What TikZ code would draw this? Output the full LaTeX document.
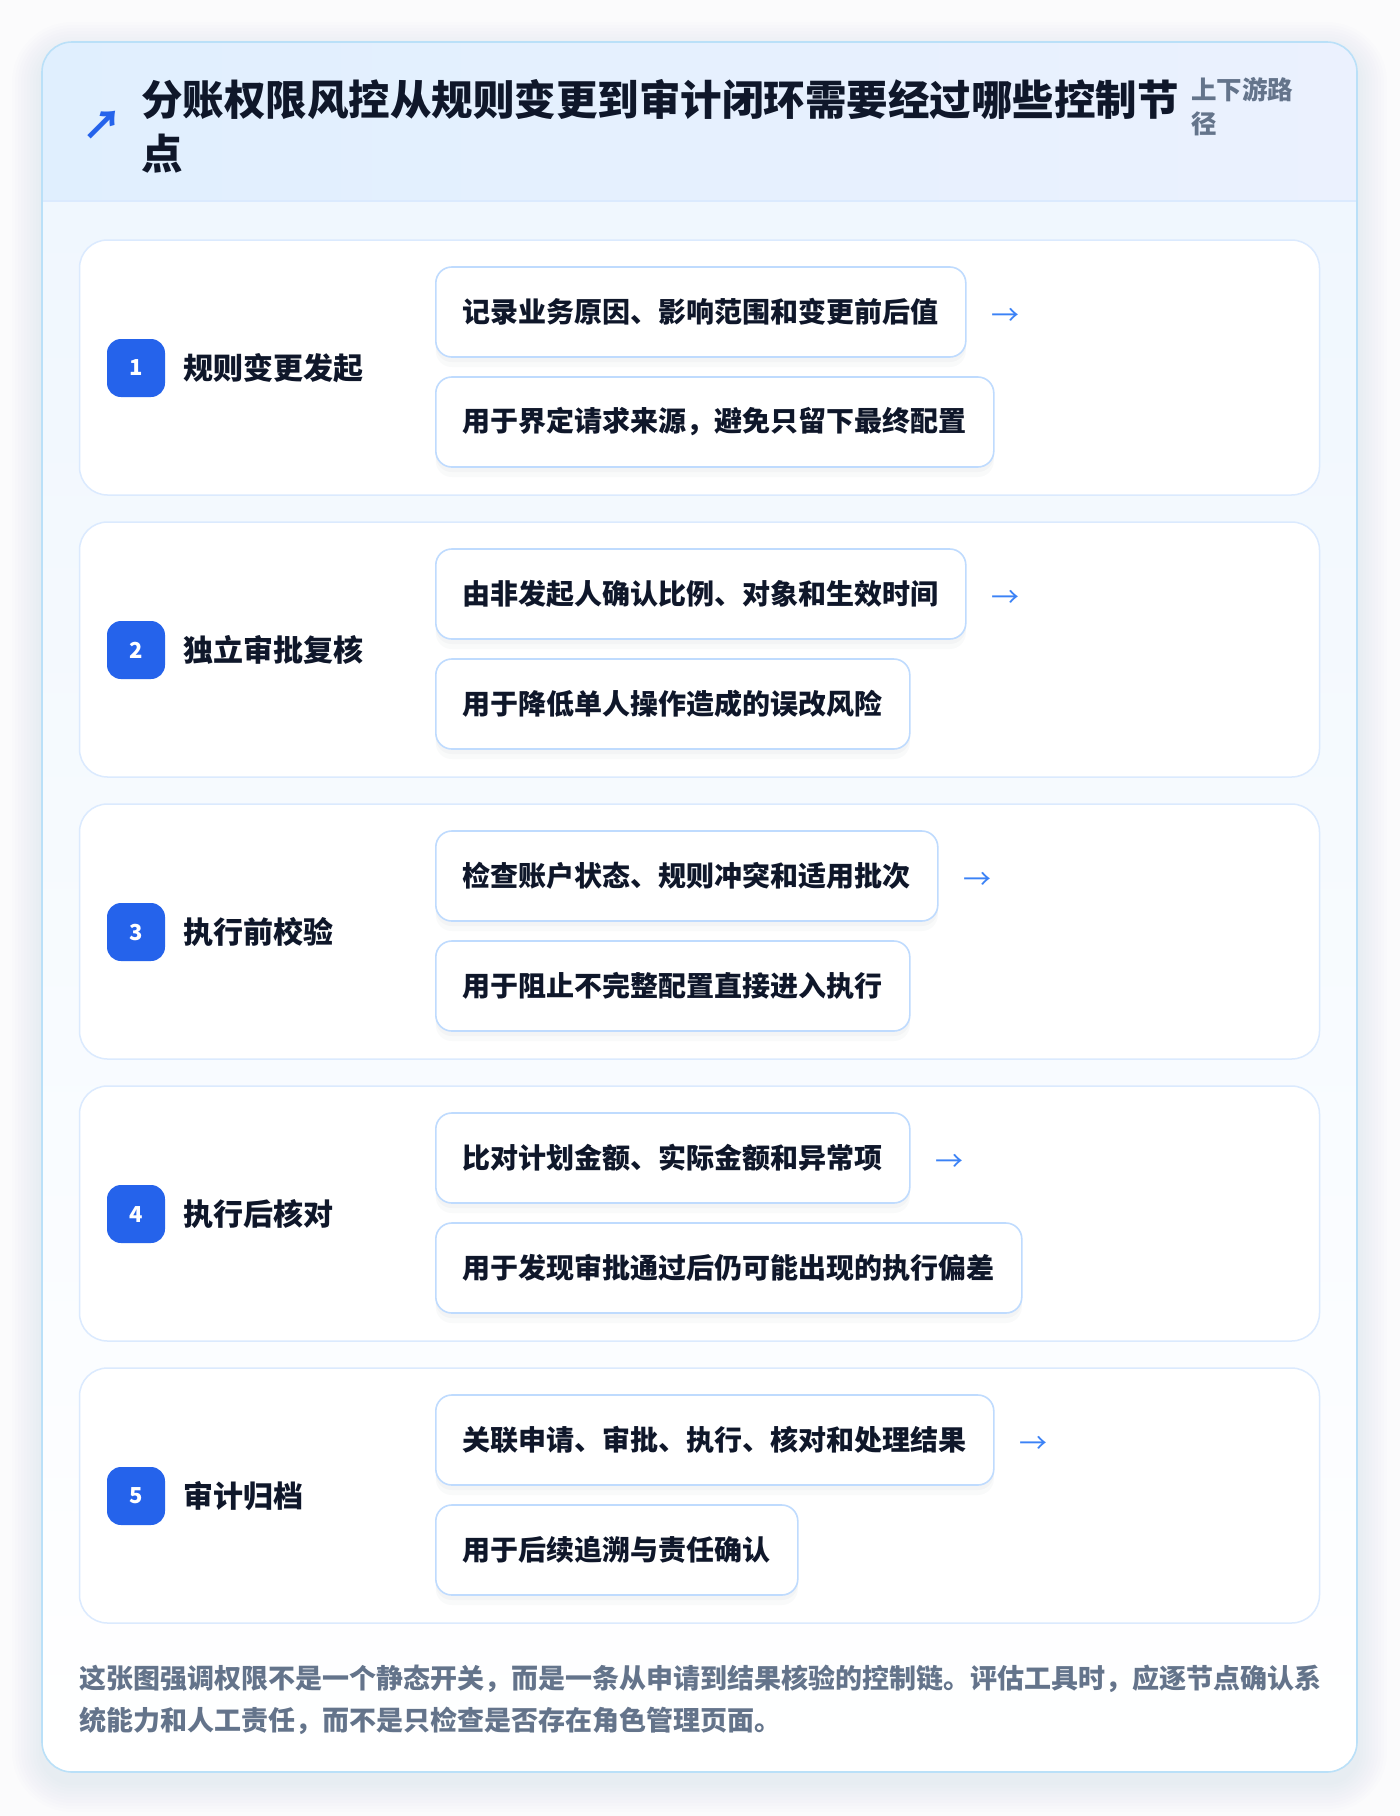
\documentclass[tikz,border=0pt]{standalone}
\usepackage{fontspec}
\setmainfont{Noto Sans CJK SC}
\usetikzlibrary{positioning}

\definecolor{inkdark}{HTML}{0F172A}
\definecolor{inkgray}{HTML}{64748B}
\definecolor{badgeblue}{HTML}{2563EB}
\definecolor{arrowblue}{HTML}{3B82F6}
\definecolor{cardline}{HTML}{BAE0F8}
\definecolor{rowline}{HTML}{DBEAFE}
\definecolor{boxline}{HTML}{BFDBFE}
\definecolor{headleft}{HTML}{E0EFFE}
\definecolor{headright}{HTML}{EBF1FE}
\definecolor{bodytop}{HTML}{F0F7FE}
\definecolor{pagebg}{HTML}{FBFBFC}
\definecolor{shadowgray}{HTML}{64748B}

\tikzset{
	rowcard/.style={draw=rowline, line width=1.5pt, fill=white, rounded corners=28pt, minimum width=1240pt, minimum height=255pt, inner sep=0},
	stepbadge/.style={fill=badgeblue, rounded corners=14pt, minimum width=58pt, minimum height=58pt, inner sep=0, text=white, font=\fontsize{22}{22}\selectfont\bfseries},
	steplabel/.style={anchor=west, inner sep=0, text=inkdark, font=\fontsize{30}{30}\selectfont\bfseries},
	notebox/.style={draw=boxline, line width=1.6pt, fill=white, rounded corners=16pt, minimum height=90pt, inner xsep=27pt, anchor=west, text=inkdark, font=\fontsize{28}{28}\selectfont\bfseries,
		preaction={fill=shadowgray, opacity=0.035, transform canvas={yshift=-10pt}},
		preaction={fill=shadowgray, opacity=0.04, transform canvas={yshift=-5pt}}},
	nextarrow/.style={anchor=west, inner sep=0, text=arrowblue, font=\fontsize{28}{28}\selectfont}
}

\begin{document}
\begin{tikzpicture}[x=1pt,y=-1pt]
		\fill[pagebg] (0,0) rectangle (1400,1816);
		\useasboundingbox (0,0) rectangle (1400,1816);
		% soft shadow round the card
		\foreach \s in {3,6,...,30}
			\fill[shadowgray, opacity=0.009, rounded corners=30pt+\s pt] (42-\s,42-\s+10) rectangle (1357+\s,1772+\s+10);
		\begin{scope}
			\clip[rounded corners=30pt] (42,42) rectangle (1357,1772);
			\shade[top color=bodytop, bottom color=white] (42,201) rectangle (1357,1772);
			\shade[left color=headleft, right color=headright] (42,42) rectangle (1357,201);
			\draw[rowline, line width=1.5pt] (42,201) -- (1357,201);
		\end{scope}
		\draw[cardline, line width=1.6pt, rounded corners=30pt] (42,42) rectangle (1357,1772);

		% header
		\node[text=badgeblue, inner sep=0, font=\fontsize{40}{40}\selectfont\bfseries] (icon) at (102,125) {↗};
		\node[anchor=north west, inner sep=0, align=left, text=inkdark, font=\fontsize{41.5}{54}\selectfont\bfseries] (title) at (141,79) {分账权限风控从规则变更到审计闭环需要经过哪些控制节\\点};
		\node[anchor=north west, inner sep=0, align=left, text=inkgray, font=\fontsize{25.5}{34}\selectfont\bfseries] (tag) at (1191,77) {上下游路\\径};

		\begin{scope}
			\node[rowcard] (r1) at (699.5,367.5) {};
			\node[stepbadge] (b1) at (136,368) {1};
			\node[steplabel, right=18pt of b1] (l1) {规则变更发起};
			\node[notebox] (n1a) at (435,312) {记录业务原因、影响范围和变更前后值};
			\node[notebox] (n1b) at (435,422) {用于界定请求来源，避免只留下最终配置};
			\node[nextarrow, right=25pt of n1a, yshift=-5pt] (t1) {→};
		\end{scope}
		\begin{scope}[shift={(0,282)}]
			\node[rowcard] (r2) at (699.5,367.5) {};
			\node[stepbadge] (b2) at (136,368) {2};
			\node[steplabel, right=18pt of b2] (l2) {独立审批复核};
			\node[notebox] (n2a) at (435,312) {由非发起人确认比例、对象和生效时间};
			\node[notebox] (n2b) at (435,422) {用于降低单人操作造成的误改风险};
			\node[nextarrow, right=25pt of n2a, yshift=-5pt] (t2) {→};
		\end{scope}
		\begin{scope}[shift={(0,564)}]
			\node[rowcard] (r3) at (699.5,367.5) {};
			\node[stepbadge] (b3) at (136,368) {3};
			\node[steplabel, right=18pt of b3] (l3) {执行前校验};
			\node[notebox] (n3a) at (435,312) {检查账户状态、规则冲突和适用批次};
			\node[notebox] (n3b) at (435,422) {用于阻止不完整配置直接进入执行};
			\node[nextarrow, right=25pt of n3a, yshift=-5pt] (t3) {→};
		\end{scope}
		\begin{scope}[shift={(0,846)}]
			\node[rowcard] (r4) at (699.5,367.5) {};
			\node[stepbadge] (b4) at (136,368) {4};
			\node[steplabel, right=18pt of b4] (l4) {执行后核对};
			\node[notebox] (n4a) at (435,312) {比对计划金额、实际金额和异常项};
			\node[notebox] (n4b) at (435,422) {用于发现审批通过后仍可能出现的执行偏差};
			\node[nextarrow, right=25pt of n4a, yshift=-5pt] (t4) {→};
		\end{scope}
		\begin{scope}[shift={(0,1128)}]
			\node[rowcard] (r5) at (699.5,367.5) {};
			\node[stepbadge] (b5) at (136,368) {5};
			\node[steplabel, right=18pt of b5] (l5) {审计归档};
			\node[notebox] (n5a) at (435,312) {关联申请、审批、执行、核对和处理结果};
			\node[notebox] (n5b) at (435,422) {用于后续追溯与责任确认};
			\node[nextarrow, right=25pt of n5a, yshift=-5pt] (t5) {→};
		\end{scope}

		% footer note
		\node[anchor=north west, inner sep=0, align=left, text=inkgray, font=\fontsize{27}{42}\selectfont\bfseries] (note) at (79,1665) {这张图强调权限不是一个静态开关，而是一条从申请到结果核验的控制链。评估工具时，应逐节点确认系\\统能力和人工责任，而不是只检查是否存在角色管理页面。};
\end{tikzpicture}
\end{document}
